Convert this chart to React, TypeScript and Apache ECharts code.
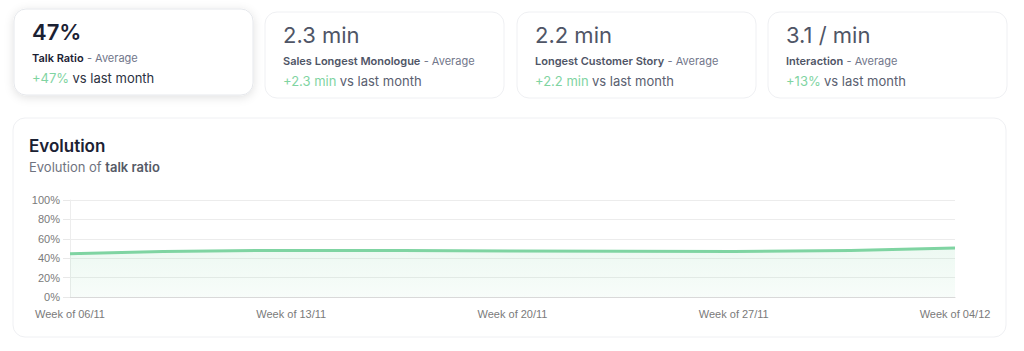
import React, { useEffect, useRef } from "react";
import * as echarts from "echarts";

const categories = ["Week of 06/11", "Week of 13/11", "Week of 20/11", "Week of 27/11", "Week of 04/12"];
const talkRatio = [44.5, 48, 47.5, 47, 50.5];
const yTicks = [0, 20, 40, 60, 80, 100];

const cardValues = ["47%", "2.3 min", "2.2 min", "3.1 / min"];
const cardTitles = ["Talk Ratio", "Sales Longest Monologue", "Longest Customer Story", "Interaction"];
const cardDeltas = ["+47%", "+2.3 min", "+2.2 min", "+13%"];

const GREEN = "#7fd4a2";
const FONT = "Inter, 'Noto Sans', sans-serif";

export default function App() {
  const ref = useRef<HTMLDivElement>(null);
  useEffect(() => {
    if (!ref.current) return;
    const chart = echarts.init(ref.current, undefined, { renderer: "svg" });
    const cardX = [14, 265, 517, 768];
    const cardY = [9, 12, 12, 12];
    const graphic: any[] = [];
    cardX.forEach((x, i) => {
      const y = cardY[i];
      const active = i === 0;
      graphic.push({
        type: "rect",
        shape: { x, y, width: 239, height: 86, r: 12 },
        style: {
          fill: "#ffffff",
          stroke: active ? "#e6e8ec" : "#eff0f3",
          lineWidth: 1,
          shadowBlur: active ? 10 : 0,
          shadowOffsetY: active ? 2 : 0,
          shadowColor: "rgba(0,0,0,0.12)",
        },
        z: 1,
      });
      graphic.push({
        type: "text",
        x: x + 18,
        y: y + 23,
        style: {
          text: cardValues[i],
          font: `${active ? 600 : 400} 22px ${FONT}`,
          fill: active ? "#1b2133" : "#4f5566",
          verticalAlign: "middle",
        },
        z: 2,
      });
      graphic.push({
        type: "text",
        x: x + 18,
        y: y + 49,
        style: {
          text: `{b|${cardTitles[i]}} {g|- Average}`,
          verticalAlign: "middle",
          rich: {
            b: { font: `600 11px ${FONT}`, fill: active ? "#1b2133" : "#4f5566" },
            g: { font: `400 11px ${FONT}`, fill: "#71768a" },
          },
        },
        z: 2,
      });
      graphic.push({
        type: "text",
        x: x + 18,
        y: y + 69,
        style: {
          text: `{d|${cardDeltas[i]}} {v|vs last month}`,
          verticalAlign: "middle",
          rich: {
            d: { font: `400 13px ${FONT}`, fill: GREEN },
            v: { font: `400 13px ${FONT}`, fill: active ? "#2b3142" : "#5a6070" },
          },
        },
        z: 2,
      });
    });
    graphic.push({
      type: "rect",
      shape: { x: 13, y: 118, width: 993, height: 219, r: 12 },
      style: { fill: "#ffffff", stroke: "#eff0f3", lineWidth: 1 },
      z: -10,
    });
    graphic.push({
      type: "text",
      x: 29,
      y: 146,
      style: { text: "Evolution", font: `600 17px ${FONT}`, fill: "#1b2133", verticalAlign: "middle" },
    });
    graphic.push({
      type: "text",
      x: 29,
      y: 167,
      style: {
        text: "{n|Evolution of }{b|talk ratio}",
        verticalAlign: "middle",
        rich: {
          n: { font: `400 13px ${FONT}`, fill: "#6f7380" },
          b: { font: `600 13px ${FONT}`, fill: "#555a66" },
        },
      },
    });

    chart.setOption({
      animation: false,
      backgroundColor: "#ffffff",
      graphic,
      grid: { left: 70, right: 69, top: 200, bottom: 54, containLabel: false },
      xAxis: {
        type: "category",
        data: categories,
        boundaryGap: false,
        axisLine: { lineStyle: { color: "#d9d9d9" } },
        axisTick: { show: false },
        axisLabel: { color: "#7a7a7a", fontSize: 11, margin: 11, fontFamily: "'Liberation Sans', Arial, sans-serif" },
        splitLine: { show: false },
      },
      yAxis: {
        type: "value",
        min: yTicks[0],
        max: yTicks[yTicks.length - 1],
        interval: 20,
        axisLine: { show: true, lineStyle: { color: "#ededed" } },
        axisTick: { show: true, length: 7, lineStyle: { color: "#e8e8e8" } },
        axisLabel: {
          formatter: "{value}%",
          color: "#7a7a7a",
          fontSize: 11,
          margin: 10,
          fontFamily: "'Liberation Sans', Arial, sans-serif",
        },
        splitLine: { lineStyle: { color: "#ececec" } },
      },
      series: [
        {
          type: "line",
          data: talkRatio,
          smooth: true,
          showSymbol: false,
          lineStyle: { color: GREEN, width: 3 },
          areaStyle: {
            color: new echarts.graphic.LinearGradient(0, 0, 0, 1, [
              { offset: 0, color: "rgba(127,212,162,0.2)" },
              { offset: 1, color: "rgba(127,212,162,0.08)" },
            ]),
          },
        },
      ],
    });
    return () => chart.dispose();
  }, []);
  return (
    <div
      ref={ref}
      style={{ position: "fixed", left: 0, top: 0, width: 1024, height: 351, background: "#fff" }}
    />
  );
}
